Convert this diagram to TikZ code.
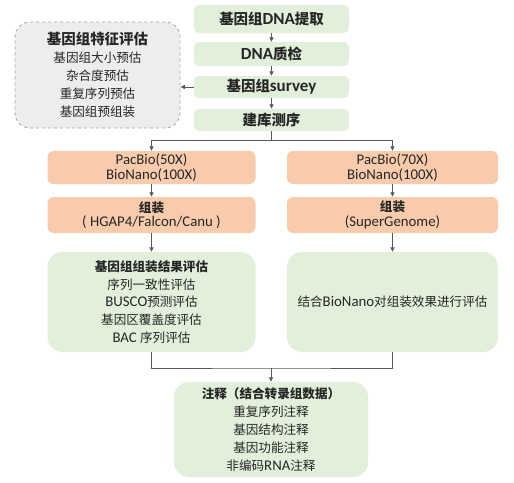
\documentclass[tikz,border=0pt]{standalone}
\usepackage{fontspec}
\setmainfont{Carlito}
\newfontfamily\cjk[Scale=0.85]{Noto Sans CJK SC}
\newcommand\zh[1]{{\cjk #1}}
\usetikzlibrary{arrows.meta}
\definecolor{gfill}{HTML}{E2EFDA}
\definecolor{ofill}{HTML}{F8CBAD}
\definecolor{grayfill}{HTML}{EDEDED}
\definecolor{dashc}{HTML}{A6A6A6}
\definecolor{linec}{HTML}{595959}
\definecolor{txt}{HTML}{262626}
\begin{document}
\begin{tikzpicture}[x=1pt,y=-1pt,
  box/.style={inner sep=0pt, align=center, text=txt},
  topbox/.style={box, fill=gfill, rounded corners=5pt, minimum width=155pt, font=\fontsize{17}{20}\selectfont\bfseries},
  obox/.style={box, fill=ofill, rounded corners=6pt, minimum width=208pt},
  gbox/.style={box, fill=gfill, rounded corners=15pt, minimum width=208pt, font=\fontsize{14.8}{17.75}\selectfont},
  arr/.style={draw=linec, line width=0.8pt, -{Triangle[length=4.5pt,width=4pt]}},
  ln/.style={draw=linec, line width=0.8pt}
]
\fill[white] (0,0) rectangle (514,482);
\useasboundingbox (0,0) rectangle (514,482);

% top column
\node[topbox, minimum height=28pt] (t1) at (271.5,19) {\zh{基因组}DNA\zh{提取}};
\node[topbox, minimum height=24pt] (t2) at (271.5,54) {DNA\zh{质检}};
\node[topbox, minimum height=22pt] (t3) at (271.5,87) {\zh{基因组}survey};
\node[topbox, minimum height=22pt] (t4) at (271.5,120) {\zh{建库测序}};

% left dashed box
\node[box, fill=grayfill, draw=dashc, dashed, line width=0.8pt, rounded corners=15pt,
  minimum width=165pt, minimum height=106pt, font=\fontsize{14.8}{18}\selectfont] (feat) at (97.5,75)
  {{\fontsize{17}{18}\selectfont\bfseries\zh{基因组特征评估}}\\
   \zh{基因组大小预估}\\ \zh{杂合度预估}\\ \zh{重复序列预估}\\ \zh{基因组预组装}};

% orange rows
\node[obox, minimum height=33pt, font=\fontsize{14.8}{15}\selectfont] (o1) at (151.5,167.5) {PacBio(50X)\\BioNano(100X)};
\node[obox, minimum height=33pt, minimum width=211pt, font=\fontsize{14.8}{15}\selectfont] (o2) at (392.5,167.5) {PacBio(70X)\\BioNano(100X)};
\node[obox, minimum height=36pt, font=\fontsize{14.8}{14.5}\selectfont] (a1) at (151.5,215) {\textbf{\zh{组装}}\\( HGAP4/Falcon/Canu )};
\node[obox, minimum height=36pt, minimum width=211pt, font=\fontsize{14.8}{14.5}\selectfont] (a2) at (392.5,215) {\textbf{\zh{组装}}\\(SuperGenome)};

% green evaluation boxes
\node[gbox, minimum height=100pt] (g1) at (151.5,302) {\textbf{\zh{基因组组装结果评估}}\\ \zh{序列一致性评估}\\ BUSCO\zh{预测评估}\\ \zh{基因区覆盖度评估}\\ BAC \zh{序列评估}};
\node[gbox, minimum height=100pt, minimum width=211pt] (g2) at (392.5,302) {\zh{结合}BioNano\zh{对组装效果进行评估}};

% annotation
\node[gbox, minimum height=95pt, minimum width=194pt, font=\fontsize{14.8}{18}\selectfont] (ann) at (271,429.5)
  {\textbf{\zh{注释（结合转录组数据）}}\\ \zh{重复序列注释}\\ \zh{基因结构注释}\\ \zh{基因功能注释}\\ \zh{非编码}RNA\zh{注释}};

% connectors
\draw[arr] (t1) -- (t2);
\draw[arr] (t2) -- (t3);
\draw[arr] (t3) -- (t4);
\draw[arr] (t3.west) -- (t3.west -| feat.east);
\coordinate (split) at (271.5,140);
\draw[ln] (t4.south) -- (split);
\draw[arr] (split) -| (o1.north);
\draw[arr] (split) -| (o2.north);
\draw[arr] (o1) -- (a1);
\draw[arr] (o2) -- (a2);
\draw[arr] (a1) -- (g1);
\draw[arr] (a2) -- (g2);
\coordinate (merge) at (271,368);
\draw[ln] (g1.south) |- (merge) -| (g2.south);
\draw[arr] (merge) -- (ann.north);
\end{tikzpicture}
\end{document}
